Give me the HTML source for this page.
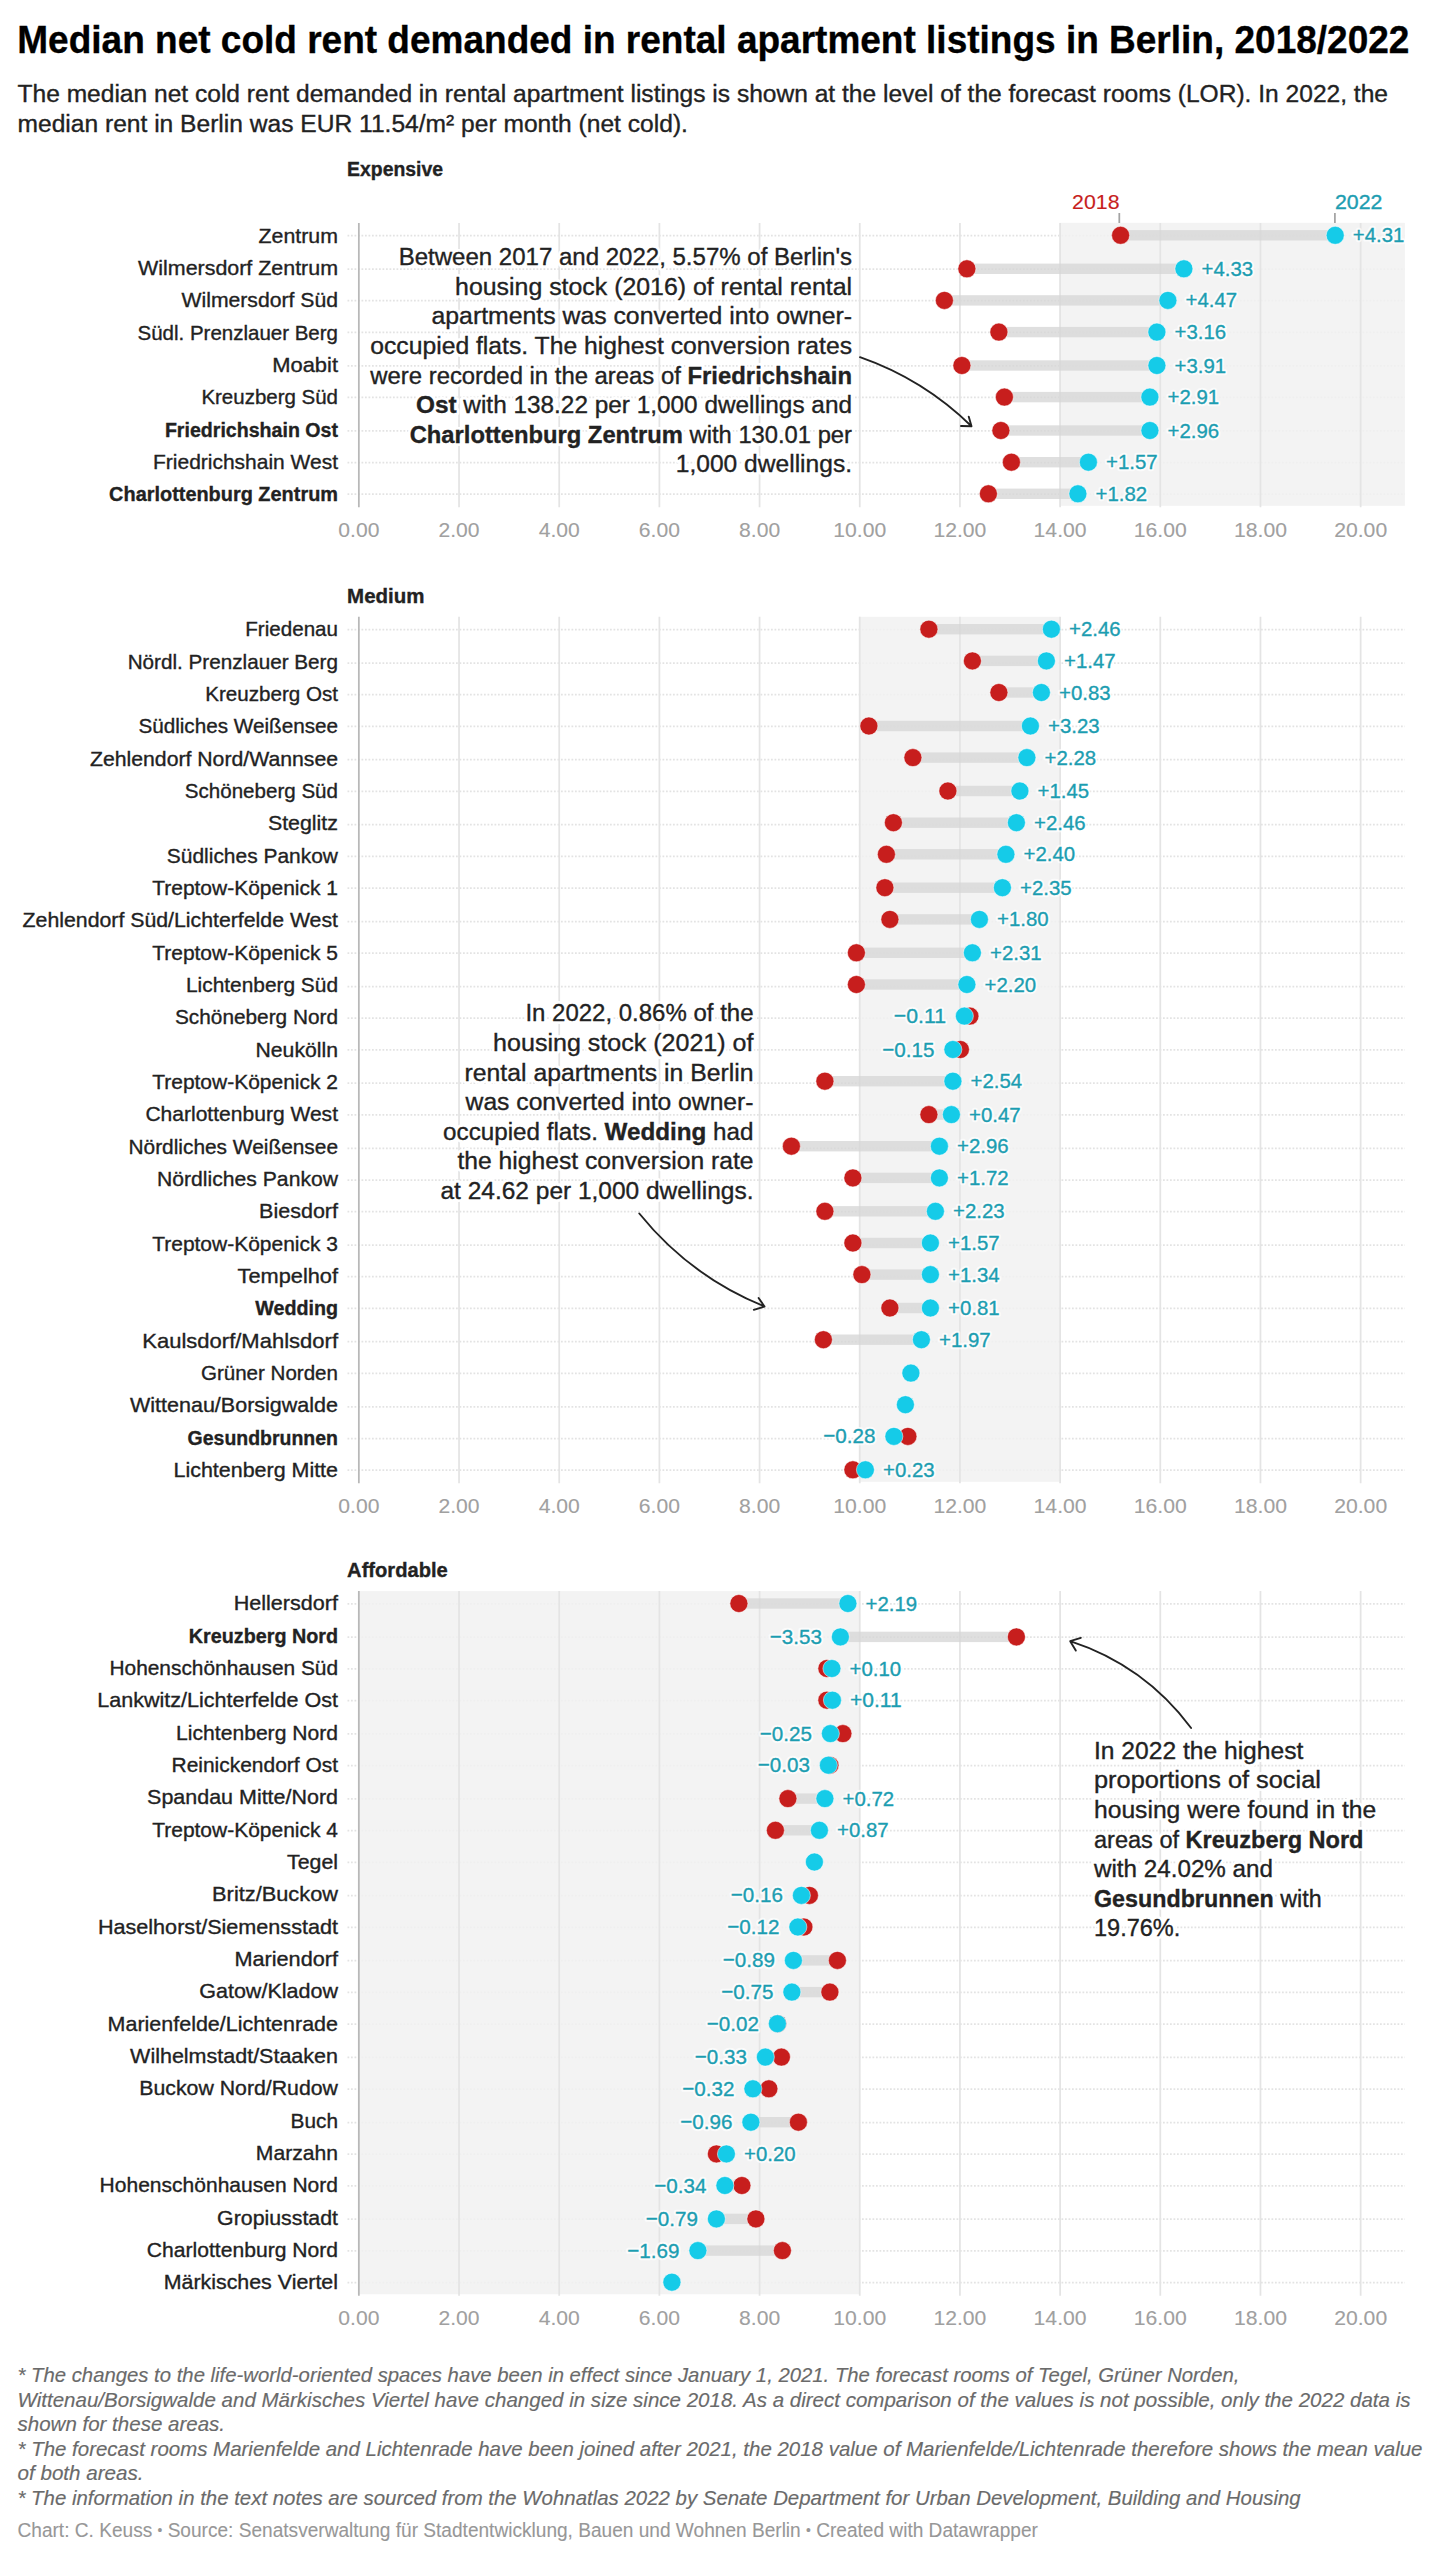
<!DOCTYPE html>
<html lang="en"><head><meta charset="utf-8"><title>Median net cold rent demanded in rental apartment listings in Berlin, 2018/2022</title>
<style>
html,body{margin:0;padding:0;background:#fff}
body{width:1442px;height:2560px;overflow:hidden}
svg{display:block;font-family:"Liberation Sans", sans-serif;fill:#222}
text{white-space:pre}
g{stroke-width:.35px}
.k0{fill:#000;stroke:#000}
.k1{fill:#222;stroke:#222}
.k2{fill:#1c9db1;stroke:#1c9db1}
.k3{fill:#a0a0a0;stroke:#a0a0a0;stroke-width:.1px}
.k4{fill:#c71e1d;stroke:#c71e1d;stroke-width:.15px}
.k5{fill:#6a6a6a;stroke:#6a6a6a;stroke-width:.15px}
.k6{fill:#979797;stroke:#979797;stroke-width:.1px}
.grid{stroke:#e4e4e4;stroke-width:1.75}
.axis{stroke:#b8b8b8;stroke-width:1.75}
.dot{stroke:#e3e3e3;stroke-width:1.75;stroke-dasharray:1.75 1.75}
.tick{stroke:#a3a3a3;stroke-width:1.75}
.bar{fill:#d6d6d6;fill-opacity:.78}
.band{fill:#f1f1f1;fill-opacity:.86}
.r{fill:#c71e1d;stroke:#fff;stroke-opacity:.5;stroke-width:1}
.c{fill:#15cbe8;stroke:#fff;stroke-opacity:.5;stroke-width:1}
.hv{fill:#fff;stroke:#fff;stroke-opacity:.7;stroke-width:4.5px;stroke-linejoin:round}
.ha{fill:#fff;stroke:#fff;stroke-width:6px;stroke-linejoin:round}
.arr{fill:none;stroke:#222;stroke-width:1.9;stroke-linecap:round;stroke-linejoin:round}
</style></head>
<body>
<svg width="1442" height="2560" viewBox="0 0 1442 2560">
<g class="k0"><text x="17.3" y="52.8" font-size="38.69" textLength="1392.1" lengthAdjust="spacingAndGlyphs"><tspan font-weight="bold">Median net cold rent demanded in rental apartment listings in Berlin, 2018/2022</tspan></text></g>
<g class="k1"><text x="17.5" y="102.2" font-size="24.62" textLength="1370.5" lengthAdjust="spacingAndGlyphs">The median net cold rent demanded in rental apartment listings is shown at the level of the forecast rooms (LOR). In 2022, the</text></g>
<g class="k1"><text x="17.5" y="131.6" font-size="24.62" textLength="670.4" lengthAdjust="spacingAndGlyphs">median rent in Berlin was EUR 11.54/m² per month (net cold).</text></g>
<line x1="347.5" x2="1404.9" y1="235.6" y2="235.6" class="dot"/>
<line x1="347.5" x2="1404.9" y1="269.1" y2="269.1" class="dot"/>
<line x1="347.5" x2="1404.9" y1="300.7" y2="300.7" class="dot"/>
<line x1="347.5" x2="1404.9" y1="332.4" y2="332.4" class="dot"/>
<line x1="347.5" x2="1404.9" y1="365.8" y2="365.8" class="dot"/>
<line x1="347.5" x2="1404.9" y1="397.4" y2="397.4" class="dot"/>
<line x1="347.5" x2="1404.9" y1="430.8" y2="430.8" class="dot"/>
<line x1="347.5" x2="1404.9" y1="462.5" y2="462.5" class="dot"/>
<line x1="347.5" x2="1404.9" y1="494.1" y2="494.1" class="dot"/>
<rect x="1059.1" y="222.9" width="345.8" height="282.9" class="band"/>
<line x1="459.03" x2="459.03" y1="222.9" y2="507.3" class="grid"/>
<line x1="559.21" x2="559.21" y1="222.9" y2="507.3" class="grid"/>
<line x1="659.39" x2="659.39" y1="222.9" y2="507.3" class="grid"/>
<line x1="759.57" x2="759.57" y1="222.9" y2="507.3" class="grid"/>
<line x1="859.75" x2="859.75" y1="222.9" y2="507.3" class="grid"/>
<line x1="959.93" x2="959.93" y1="222.9" y2="507.3" class="grid"/>
<line x1="1060.11" x2="1060.11" y1="222.9" y2="507.3" class="grid"/>
<line x1="1160.29" x2="1160.29" y1="222.9" y2="507.3" class="grid"/>
<line x1="1260.47" x2="1260.47" y1="222.9" y2="507.3" class="grid"/>
<line x1="1360.65" x2="1360.65" y1="222.9" y2="507.3" class="grid"/>
<line x1="358.85" x2="358.85" y1="222.9" y2="507.3" class="axis"/>
<rect x="1120.6" y="230.1" width="214.6" height="10.4" class="bar"/>
<rect x="966.9" y="263.6" width="217.0" height="10.4" class="bar"/>
<rect x="944.4" y="295.2" width="223.5" height="10.4" class="bar"/>
<rect x="998.9" y="326.9" width="158.0" height="10.4" class="bar"/>
<rect x="961.9" y="360.3" width="195.0" height="10.4" class="bar"/>
<rect x="1004.4" y="391.9" width="145.5" height="10.4" class="bar"/>
<rect x="1000.9" y="425.3" width="149.0" height="10.4" class="bar"/>
<rect x="1011.4" y="457.0" width="77.0" height="10.4" class="bar"/>
<rect x="988.4" y="488.6" width="89.5" height="10.4" class="bar"/>
<circle cx="1120.6" cy="235.3" r="9.0" class="r"/>
<circle cx="1335.2" cy="235.3" r="9.0" class="c"/>
<circle cx="966.9" cy="268.8" r="9.0" class="r"/>
<circle cx="1183.9" cy="268.8" r="9.0" class="c"/>
<circle cx="944.4" cy="300.4" r="9.0" class="r"/>
<circle cx="1167.9" cy="300.4" r="9.0" class="c"/>
<circle cx="998.9" cy="332.1" r="9.0" class="r"/>
<circle cx="1156.9" cy="332.1" r="9.0" class="c"/>
<circle cx="961.9" cy="365.5" r="9.0" class="r"/>
<circle cx="1156.9" cy="365.5" r="9.0" class="c"/>
<circle cx="1004.4" cy="397.1" r="9.0" class="r"/>
<circle cx="1149.9" cy="397.1" r="9.0" class="c"/>
<circle cx="1000.9" cy="430.5" r="9.0" class="r"/>
<circle cx="1149.9" cy="430.5" r="9.0" class="c"/>
<circle cx="1011.4" cy="462.2" r="9.0" class="r"/>
<circle cx="1088.4" cy="462.2" r="9.0" class="c"/>
<circle cx="988.4" cy="493.8" r="9.0" class="r"/>
<circle cx="1077.9" cy="493.8" r="9.0" class="c"/>
<g class="k1"><text x="347.1" y="175.9" font-size="21.1" textLength="96.0" lengthAdjust="spacingAndGlyphs"><tspan font-weight="bold">Expensive</tspan></text></g>
<g class="k1"><text x="338.0" y="242.5" font-size="21.1" text-anchor="end" textLength="79.4" lengthAdjust="spacingAndGlyphs">Zentrum</text></g>
<use href="#t6" class="hv"/><g class="k2"><text x="1352.8" y="242.3" font-size="21.1" textLength="51.6" lengthAdjust="spacingAndGlyphs" id="t6">+4.31</text></g>
<g class="k1"><text x="338.0" y="274.8" font-size="21.1" text-anchor="end" textLength="199.9" lengthAdjust="spacingAndGlyphs">Wilmersdorf Zentrum</text></g>
<use href="#t8" class="hv"/><g class="k2"><text x="1201.5" y="275.8" font-size="21.1" textLength="51.6" lengthAdjust="spacingAndGlyphs" id="t8">+4.33</text></g>
<g class="k1"><text x="338.0" y="307.2" font-size="21.1" text-anchor="end" textLength="156.5" lengthAdjust="spacingAndGlyphs">Wilmersdorf Süd</text></g>
<use href="#t10" class="hv"/><g class="k2"><text x="1185.5" y="307.4" font-size="21.1" textLength="51.6" lengthAdjust="spacingAndGlyphs" id="t10">+4.47</text></g>
<g class="k1"><text x="338.0" y="339.5" font-size="21.1" text-anchor="end" textLength="200.5" lengthAdjust="spacingAndGlyphs">Südl. Prenzlauer Berg</text></g>
<use href="#t12" class="hv"/><g class="k2"><text x="1174.5" y="339.1" font-size="21.1" textLength="51.6" lengthAdjust="spacingAndGlyphs" id="t12">+3.16</text></g>
<g class="k1"><text x="338.0" y="371.8" font-size="21.1" text-anchor="end" textLength="65.8" lengthAdjust="spacingAndGlyphs">Moabit</text></g>
<use href="#t14" class="hv"/><g class="k2"><text x="1174.5" y="372.5" font-size="21.1" textLength="51.6" lengthAdjust="spacingAndGlyphs" id="t14">+3.91</text></g>
<g class="k1"><text x="338.0" y="404.1" font-size="21.1" text-anchor="end" textLength="136.6" lengthAdjust="spacingAndGlyphs">Kreuzberg Süd</text></g>
<use href="#t16" class="hv"/><g class="k2"><text x="1167.5" y="404.1" font-size="21.1" textLength="51.6" lengthAdjust="spacingAndGlyphs" id="t16">+2.91</text></g>
<g class="k1"><text x="338.0" y="436.5" font-size="21.1" text-anchor="end" textLength="173.1" lengthAdjust="spacingAndGlyphs"><tspan font-weight="bold">Friedrichshain Ost</tspan></text></g>
<use href="#t18" class="hv"/><g class="k2"><text x="1167.5" y="437.5" font-size="21.1" textLength="51.6" lengthAdjust="spacingAndGlyphs" id="t18">+2.96</text></g>
<g class="k1"><text x="338.0" y="468.8" font-size="21.1" text-anchor="end" textLength="185.0" lengthAdjust="spacingAndGlyphs">Friedrichshain West</text></g>
<use href="#t20" class="hv"/><g class="k2"><text x="1106.0" y="469.2" font-size="21.1" textLength="51.6" lengthAdjust="spacingAndGlyphs" id="t20">+1.57</text></g>
<g class="k1"><text x="338.0" y="501.1" font-size="21.1" text-anchor="end" textLength="228.9" lengthAdjust="spacingAndGlyphs"><tspan font-weight="bold">Charlottenburg Zentrum</tspan></text></g>
<use href="#t22" class="hv"/><g class="k2"><text x="1095.5" y="500.8" font-size="21.1" textLength="51.6" lengthAdjust="spacingAndGlyphs" id="t22">+1.82</text></g>
<g class="k3"><text x="358.9" y="536.9" font-size="21.1" text-anchor="middle" textLength="41.1" lengthAdjust="spacingAndGlyphs">0.00</text></g>
<g class="k3"><text x="459.0" y="536.9" font-size="21.1" text-anchor="middle" textLength="41.1" lengthAdjust="spacingAndGlyphs">2.00</text></g>
<g class="k3"><text x="559.2" y="536.9" font-size="21.1" text-anchor="middle" textLength="41.1" lengthAdjust="spacingAndGlyphs">4.00</text></g>
<g class="k3"><text x="659.4" y="536.9" font-size="21.1" text-anchor="middle" textLength="41.1" lengthAdjust="spacingAndGlyphs">6.00</text></g>
<g class="k3"><text x="759.6" y="536.9" font-size="21.1" text-anchor="middle" textLength="41.1" lengthAdjust="spacingAndGlyphs">8.00</text></g>
<g class="k3"><text x="859.8" y="536.9" font-size="21.1" text-anchor="middle" textLength="53.0" lengthAdjust="spacingAndGlyphs">10.00</text></g>
<g class="k3"><text x="959.9" y="536.9" font-size="21.1" text-anchor="middle" textLength="53.0" lengthAdjust="spacingAndGlyphs">12.00</text></g>
<g class="k3"><text x="1060.1" y="536.9" font-size="21.1" text-anchor="middle" textLength="53.0" lengthAdjust="spacingAndGlyphs">14.00</text></g>
<g class="k3"><text x="1160.3" y="536.9" font-size="21.1" text-anchor="middle" textLength="53.0" lengthAdjust="spacingAndGlyphs">16.00</text></g>
<g class="k3"><text x="1260.5" y="536.9" font-size="21.1" text-anchor="middle" textLength="53.0" lengthAdjust="spacingAndGlyphs">18.00</text></g>
<g class="k3"><text x="1360.7" y="536.9" font-size="21.1" text-anchor="middle" textLength="53.0" lengthAdjust="spacingAndGlyphs">20.00</text></g>
<line x1="1119.3" x2="1119.3" y1="213" y2="223" class="tick"/>
<line x1="1334.9" x2="1334.9" y1="213" y2="223" class="tick"/>
<g class="k4"><text x="1119.5" y="209.0" font-size="21.1" text-anchor="end" textLength="47.4" lengthAdjust="spacingAndGlyphs">2018</text></g>
<g class="k2"><text x="1335.0" y="209.0" font-size="21.1" textLength="47.4" lengthAdjust="spacingAndGlyphs">2022</text></g>
<line x1="347.5" x2="1404.9" y1="629.5" y2="629.5" class="dot"/>
<line x1="347.5" x2="1404.9" y1="663.0" y2="663.0" class="dot"/>
<line x1="347.5" x2="1404.9" y1="694.6" y2="694.6" class="dot"/>
<line x1="347.5" x2="1404.9" y1="726.3" y2="726.3" class="dot"/>
<line x1="347.5" x2="1404.9" y1="759.7" y2="759.7" class="dot"/>
<line x1="347.5" x2="1404.9" y1="791.3" y2="791.3" class="dot"/>
<line x1="347.5" x2="1404.9" y1="824.7" y2="824.7" class="dot"/>
<line x1="347.5" x2="1404.9" y1="856.4" y2="856.4" class="dot"/>
<line x1="347.5" x2="1404.9" y1="888.0" y2="888.0" class="dot"/>
<line x1="347.5" x2="1404.9" y1="921.5" y2="921.5" class="dot"/>
<line x1="347.5" x2="1404.9" y1="953.1" y2="953.1" class="dot"/>
<line x1="347.5" x2="1404.9" y1="986.5" y2="986.5" class="dot"/>
<line x1="347.5" x2="1404.9" y1="1018.2" y2="1018.2" class="dot"/>
<line x1="347.5" x2="1404.9" y1="1049.8" y2="1049.8" class="dot"/>
<line x1="347.5" x2="1404.9" y1="1083.2" y2="1083.2" class="dot"/>
<line x1="347.5" x2="1404.9" y1="1114.9" y2="1114.9" class="dot"/>
<line x1="347.5" x2="1404.9" y1="1148.3" y2="1148.3" class="dot"/>
<line x1="347.5" x2="1404.9" y1="1180.0" y2="1180.0" class="dot"/>
<line x1="347.5" x2="1404.9" y1="1211.6" y2="1211.6" class="dot"/>
<line x1="347.5" x2="1404.9" y1="1245.0" y2="1245.0" class="dot"/>
<line x1="347.5" x2="1404.9" y1="1276.7" y2="1276.7" class="dot"/>
<line x1="347.5" x2="1404.9" y1="1308.3" y2="1308.3" class="dot"/>
<line x1="347.5" x2="1404.9" y1="1341.7" y2="1341.7" class="dot"/>
<line x1="347.5" x2="1404.9" y1="1373.4" y2="1373.4" class="dot"/>
<line x1="347.5" x2="1404.9" y1="1406.8" y2="1406.8" class="dot"/>
<line x1="347.5" x2="1404.9" y1="1438.5" y2="1438.5" class="dot"/>
<line x1="347.5" x2="1404.9" y1="1470.1" y2="1470.1" class="dot"/>
<rect x="858.8" y="616.8" width="200.9" height="865.0" class="band"/>
<line x1="459.03" x2="459.03" y1="616.8" y2="1483.3" class="grid"/>
<line x1="559.21" x2="559.21" y1="616.8" y2="1483.3" class="grid"/>
<line x1="659.39" x2="659.39" y1="616.8" y2="1483.3" class="grid"/>
<line x1="759.57" x2="759.57" y1="616.8" y2="1483.3" class="grid"/>
<line x1="859.75" x2="859.75" y1="616.8" y2="1483.3" class="grid"/>
<line x1="959.93" x2="959.93" y1="616.8" y2="1483.3" class="grid"/>
<line x1="1060.11" x2="1060.11" y1="616.8" y2="1483.3" class="grid"/>
<line x1="1160.29" x2="1160.29" y1="616.8" y2="1483.3" class="grid"/>
<line x1="1260.47" x2="1260.47" y1="616.8" y2="1483.3" class="grid"/>
<line x1="1360.65" x2="1360.65" y1="616.8" y2="1483.3" class="grid"/>
<line x1="358.85" x2="358.85" y1="616.8" y2="1483.3" class="axis"/>
<rect x="928.9" y="624.0" width="122.5" height="10.4" class="bar"/>
<rect x="972.4" y="655.7" width="74.0" height="10.4" class="bar"/>
<rect x="998.9" y="687.3" width="42.5" height="10.4" class="bar"/>
<rect x="868.9" y="720.8" width="161.5" height="10.4" class="bar"/>
<rect x="912.9" y="752.4" width="114.0" height="10.4" class="bar"/>
<rect x="947.9" y="785.8" width="72.0" height="10.4" class="bar"/>
<rect x="893.4" y="817.5" width="123.0" height="10.4" class="bar"/>
<rect x="886.4" y="849.1" width="119.5" height="10.4" class="bar"/>
<rect x="884.9" y="882.5" width="117.5" height="10.4" class="bar"/>
<rect x="889.9" y="914.2" width="89.5" height="10.4" class="bar"/>
<rect x="856.4" y="947.6" width="116.0" height="10.4" class="bar"/>
<rect x="856.4" y="979.3" width="110.5" height="10.4" class="bar"/>
<rect x="964.4" y="1010.9" width="5.5" height="10.4" class="bar"/>
<rect x="952.9" y="1044.3" width="7.5" height="10.4" class="bar"/>
<rect x="824.9" y="1076.0" width="128.0" height="10.4" class="bar"/>
<rect x="928.9" y="1109.4" width="22.5" height="10.4" class="bar"/>
<rect x="791.4" y="1141.0" width="148.0" height="10.4" class="bar"/>
<rect x="852.9" y="1172.7" width="86.5" height="10.4" class="bar"/>
<rect x="824.9" y="1206.1" width="110.5" height="10.4" class="bar"/>
<rect x="852.9" y="1237.8" width="77.5" height="10.4" class="bar"/>
<rect x="861.9" y="1269.4" width="68.5" height="10.4" class="bar"/>
<rect x="889.9" y="1302.8" width="40.5" height="10.4" class="bar"/>
<rect x="823.4" y="1334.5" width="98.0" height="10.4" class="bar"/>
<rect x="893.9" y="1431.2" width="14.0" height="10.4" class="bar"/>
<rect x="852.9" y="1464.6" width="12.5" height="10.4" class="bar"/>
<circle cx="928.9" cy="629.2" r="9.0" class="r"/>
<circle cx="1051.4" cy="629.2" r="9.0" class="c"/>
<circle cx="972.4" cy="660.9" r="9.0" class="r"/>
<circle cx="1046.4" cy="660.9" r="9.0" class="c"/>
<circle cx="998.9" cy="692.5" r="9.0" class="r"/>
<circle cx="1041.4" cy="692.5" r="9.0" class="c"/>
<circle cx="868.9" cy="726.0" r="9.0" class="r"/>
<circle cx="1030.4" cy="726.0" r="9.0" class="c"/>
<circle cx="912.9" cy="757.6" r="9.0" class="r"/>
<circle cx="1026.9" cy="757.6" r="9.0" class="c"/>
<circle cx="947.9" cy="791.0" r="9.0" class="r"/>
<circle cx="1019.9" cy="791.0" r="9.0" class="c"/>
<circle cx="893.4" cy="822.7" r="9.0" class="r"/>
<circle cx="1016.4" cy="822.7" r="9.0" class="c"/>
<circle cx="886.4" cy="854.3" r="9.0" class="r"/>
<circle cx="1005.9" cy="854.3" r="9.0" class="c"/>
<circle cx="884.9" cy="887.7" r="9.0" class="r"/>
<circle cx="1002.4" cy="887.7" r="9.0" class="c"/>
<circle cx="889.9" cy="919.4" r="9.0" class="r"/>
<circle cx="979.4" cy="919.4" r="9.0" class="c"/>
<circle cx="856.4" cy="952.8" r="9.0" class="r"/>
<circle cx="972.4" cy="952.8" r="9.0" class="c"/>
<circle cx="856.4" cy="984.5" r="9.0" class="r"/>
<circle cx="966.9" cy="984.5" r="9.0" class="c"/>
<circle cx="969.9" cy="1016.1" r="9.0" class="r"/>
<circle cx="964.4" cy="1016.1" r="9.0" class="c"/>
<circle cx="960.4" cy="1049.5" r="9.0" class="r"/>
<circle cx="952.9" cy="1049.5" r="9.0" class="c"/>
<circle cx="824.9" cy="1081.2" r="9.0" class="r"/>
<circle cx="952.9" cy="1081.2" r="9.0" class="c"/>
<circle cx="928.9" cy="1114.6" r="9.0" class="r"/>
<circle cx="951.4" cy="1114.6" r="9.0" class="c"/>
<circle cx="791.4" cy="1146.2" r="9.0" class="r"/>
<circle cx="939.4" cy="1146.2" r="9.0" class="c"/>
<circle cx="852.9" cy="1177.9" r="9.0" class="r"/>
<circle cx="939.4" cy="1177.9" r="9.0" class="c"/>
<circle cx="824.9" cy="1211.3" r="9.0" class="r"/>
<circle cx="935.4" cy="1211.3" r="9.0" class="c"/>
<circle cx="852.9" cy="1243.0" r="9.0" class="r"/>
<circle cx="930.4" cy="1243.0" r="9.0" class="c"/>
<circle cx="861.9" cy="1274.6" r="9.0" class="r"/>
<circle cx="930.4" cy="1274.6" r="9.0" class="c"/>
<circle cx="889.9" cy="1308.0" r="9.0" class="r"/>
<circle cx="930.4" cy="1308.0" r="9.0" class="c"/>
<circle cx="823.4" cy="1339.7" r="9.0" class="r"/>
<circle cx="921.4" cy="1339.7" r="9.0" class="c"/>
<circle cx="910.9" cy="1373.1" r="9.0" class="c"/>
<circle cx="905.4" cy="1404.7" r="9.0" class="c"/>
<circle cx="907.9" cy="1436.4" r="9.0" class="r"/>
<circle cx="893.9" cy="1436.4" r="9.0" class="c"/>
<circle cx="852.9" cy="1469.8" r="9.0" class="r"/>
<circle cx="865.4" cy="1469.8" r="9.0" class="c"/>
<g class="k1"><text x="347.1" y="603.1" font-size="21.1" textLength="77.4" lengthAdjust="spacingAndGlyphs"><tspan font-weight="bold">Medium</tspan></text></g>
<g class="k1"><text x="338.0" y="636.2" font-size="21.1" text-anchor="end" textLength="92.7" lengthAdjust="spacingAndGlyphs">Friedenau</text></g>
<use href="#t38" class="hv"/><g class="k2"><text x="1069.0" y="636.2" font-size="21.1" textLength="51.6" lengthAdjust="spacingAndGlyphs" id="t38">+2.46</text></g>
<g class="k1"><text x="338.0" y="668.5" font-size="21.1" text-anchor="end" textLength="210.3" lengthAdjust="spacingAndGlyphs">Nördl. Prenzlauer Berg</text></g>
<use href="#t40" class="hv"/><g class="k2"><text x="1064.0" y="667.9" font-size="21.1" textLength="51.6" lengthAdjust="spacingAndGlyphs" id="t40">+1.47</text></g>
<g class="k1"><text x="338.0" y="700.9" font-size="21.1" text-anchor="end" textLength="132.8" lengthAdjust="spacingAndGlyphs">Kreuzberg Ost</text></g>
<use href="#t42" class="hv"/><g class="k2"><text x="1059.0" y="699.5" font-size="21.1" textLength="51.6" lengthAdjust="spacingAndGlyphs" id="t42">+0.83</text></g>
<g class="k1"><text x="338.0" y="733.2" font-size="21.1" text-anchor="end" textLength="199.6" lengthAdjust="spacingAndGlyphs">Südliches Weißensee</text></g>
<use href="#t44" class="hv"/><g class="k2"><text x="1048.0" y="733.0" font-size="21.1" textLength="51.6" lengthAdjust="spacingAndGlyphs" id="t44">+3.23</text></g>
<g class="k1"><text x="338.0" y="765.5" font-size="21.1" text-anchor="end" textLength="248.0" lengthAdjust="spacingAndGlyphs">Zehlendorf Nord/Wannsee</text></g>
<use href="#t46" class="hv"/><g class="k2"><text x="1044.5" y="764.6" font-size="21.1" textLength="51.6" lengthAdjust="spacingAndGlyphs" id="t46">+2.28</text></g>
<g class="k1"><text x="338.0" y="797.9" font-size="21.1" text-anchor="end" textLength="153.2" lengthAdjust="spacingAndGlyphs">Schöneberg Süd</text></g>
<use href="#t48" class="hv"/><g class="k2"><text x="1037.5" y="798.0" font-size="21.1" textLength="51.6" lengthAdjust="spacingAndGlyphs" id="t48">+1.45</text></g>
<g class="k1"><text x="338.0" y="830.2" font-size="21.1" text-anchor="end" textLength="70.1" lengthAdjust="spacingAndGlyphs">Steglitz</text></g>
<use href="#t50" class="hv"/><g class="k2"><text x="1034.0" y="829.7" font-size="21.1" textLength="51.6" lengthAdjust="spacingAndGlyphs" id="t50">+2.46</text></g>
<g class="k1"><text x="338.0" y="862.5" font-size="21.1" text-anchor="end" textLength="171.2" lengthAdjust="spacingAndGlyphs">Südliches Pankow</text></g>
<use href="#t52" class="hv"/><g class="k2"><text x="1023.5" y="861.3" font-size="21.1" textLength="51.6" lengthAdjust="spacingAndGlyphs" id="t52">+2.40</text></g>
<g class="k1"><text x="338.0" y="894.8" font-size="21.1" text-anchor="end" textLength="185.8" lengthAdjust="spacingAndGlyphs">Treptow-Köpenick 1</text></g>
<use href="#t54" class="hv"/><g class="k2"><text x="1020.0" y="894.7" font-size="21.1" textLength="51.6" lengthAdjust="spacingAndGlyphs" id="t54">+2.35</text></g>
<g class="k1"><text x="338.0" y="927.2" font-size="21.1" text-anchor="end" textLength="315.4" lengthAdjust="spacingAndGlyphs">Zehlendorf Süd/Lichterfelde West</text></g>
<use href="#t56" class="hv"/><g class="k2"><text x="997.0" y="926.4" font-size="21.1" textLength="51.6" lengthAdjust="spacingAndGlyphs" id="t56">+1.80</text></g>
<g class="k1"><text x="338.0" y="959.5" font-size="21.1" text-anchor="end" textLength="185.8" lengthAdjust="spacingAndGlyphs">Treptow-Köpenick 5</text></g>
<use href="#t58" class="hv"/><g class="k2"><text x="990.0" y="959.8" font-size="21.1" textLength="51.6" lengthAdjust="spacingAndGlyphs" id="t58">+2.31</text></g>
<g class="k1"><text x="338.0" y="991.8" font-size="21.1" text-anchor="end" textLength="152.0" lengthAdjust="spacingAndGlyphs">Lichtenberg Süd</text></g>
<use href="#t60" class="hv"/><g class="k2"><text x="984.5" y="991.5" font-size="21.1" textLength="51.6" lengthAdjust="spacingAndGlyphs" id="t60">+2.20</text></g>
<g class="k1"><text x="338.0" y="1024.2" font-size="21.1" text-anchor="end" textLength="163.0" lengthAdjust="spacingAndGlyphs">Schöneberg Nord</text></g>
<use href="#t62" class="hv"/><g class="k2"><text x="946.0" y="1023.1" font-size="21.1" text-anchor="end" textLength="52.2" lengthAdjust="spacingAndGlyphs" id="t62">−0.11</text></g>
<g class="k1"><text x="338.0" y="1056.5" font-size="21.1" text-anchor="end" textLength="82.5" lengthAdjust="spacingAndGlyphs">Neukölln</text></g>
<use href="#t64" class="hv"/><g class="k2"><text x="934.5" y="1056.5" font-size="21.1" text-anchor="end" textLength="52.2" lengthAdjust="spacingAndGlyphs" id="t64">−0.15</text></g>
<g class="k1"><text x="338.0" y="1088.8" font-size="21.1" text-anchor="end" textLength="185.8" lengthAdjust="spacingAndGlyphs">Treptow-Köpenick 2</text></g>
<use href="#t66" class="hv"/><g class="k2"><text x="970.5" y="1088.2" font-size="21.1" textLength="51.6" lengthAdjust="spacingAndGlyphs" id="t66">+2.54</text></g>
<g class="k1"><text x="338.0" y="1121.2" font-size="21.1" text-anchor="end" textLength="192.6" lengthAdjust="spacingAndGlyphs">Charlottenburg West</text></g>
<use href="#t68" class="hv"/><g class="k2"><text x="969.0" y="1121.6" font-size="21.1" textLength="51.6" lengthAdjust="spacingAndGlyphs" id="t68">+0.47</text></g>
<g class="k1"><text x="338.0" y="1153.5" font-size="21.1" text-anchor="end" textLength="209.5" lengthAdjust="spacingAndGlyphs">Nördliches Weißensee</text></g>
<use href="#t70" class="hv"/><g class="k2"><text x="957.0" y="1153.2" font-size="21.1" textLength="51.6" lengthAdjust="spacingAndGlyphs" id="t70">+2.96</text></g>
<g class="k1"><text x="338.0" y="1185.8" font-size="21.1" text-anchor="end" textLength="181.0" lengthAdjust="spacingAndGlyphs">Nördliches Pankow</text></g>
<use href="#t72" class="hv"/><g class="k2"><text x="957.0" y="1184.9" font-size="21.1" textLength="51.6" lengthAdjust="spacingAndGlyphs" id="t72">+1.72</text></g>
<g class="k1"><text x="338.0" y="1218.1" font-size="21.1" text-anchor="end" textLength="78.9" lengthAdjust="spacingAndGlyphs">Biesdorf</text></g>
<use href="#t74" class="hv"/><g class="k2"><text x="953.0" y="1218.3" font-size="21.1" textLength="51.6" lengthAdjust="spacingAndGlyphs" id="t74">+2.23</text></g>
<g class="k1"><text x="338.0" y="1250.5" font-size="21.1" text-anchor="end" textLength="185.8" lengthAdjust="spacingAndGlyphs">Treptow-Köpenick 3</text></g>
<use href="#t76" class="hv"/><g class="k2"><text x="948.0" y="1250.0" font-size="21.1" textLength="51.6" lengthAdjust="spacingAndGlyphs" id="t76">+1.57</text></g>
<g class="k1"><text x="338.0" y="1282.8" font-size="21.1" text-anchor="end" textLength="100.4" lengthAdjust="spacingAndGlyphs">Tempelhof</text></g>
<use href="#t78" class="hv"/><g class="k2"><text x="948.0" y="1281.6" font-size="21.1" textLength="51.6" lengthAdjust="spacingAndGlyphs" id="t78">+1.34</text></g>
<g class="k1"><text x="338.0" y="1315.1" font-size="21.1" text-anchor="end" textLength="82.8" lengthAdjust="spacingAndGlyphs"><tspan font-weight="bold">Wedding</tspan></text></g>
<use href="#t80" class="hv"/><g class="k2"><text x="948.0" y="1315.0" font-size="21.1" textLength="51.6" lengthAdjust="spacingAndGlyphs" id="t80">+0.81</text></g>
<g class="k1"><text x="338.0" y="1347.5" font-size="21.1" text-anchor="end" textLength="195.7" lengthAdjust="spacingAndGlyphs">Kaulsdorf/Mahlsdorf</text></g>
<use href="#t82" class="hv"/><g class="k2"><text x="939.0" y="1346.7" font-size="21.1" textLength="51.6" lengthAdjust="spacingAndGlyphs" id="t82">+1.97</text></g>
<g class="k1"><text x="338.0" y="1379.8" font-size="21.1" text-anchor="end" textLength="137.1" lengthAdjust="spacingAndGlyphs">Grüner Norden</text></g>
<g class="k1"><text x="338.0" y="1412.1" font-size="21.1" text-anchor="end" textLength="208.0" lengthAdjust="spacingAndGlyphs">Wittenau/Borsigwalde</text></g>
<g class="k1"><text x="338.0" y="1444.5" font-size="21.1" text-anchor="end" textLength="150.4" lengthAdjust="spacingAndGlyphs"><tspan font-weight="bold">Gesundbrunnen</tspan></text></g>
<use href="#t86" class="hv"/><g class="k2"><text x="875.5" y="1443.4" font-size="21.1" text-anchor="end" textLength="52.2" lengthAdjust="spacingAndGlyphs" id="t86">−0.28</text></g>
<g class="k1"><text x="338.0" y="1476.8" font-size="21.1" text-anchor="end" textLength="164.5" lengthAdjust="spacingAndGlyphs">Lichtenberg Mitte</text></g>
<use href="#t88" class="hv"/><g class="k2"><text x="883.0" y="1476.8" font-size="21.1" textLength="51.6" lengthAdjust="spacingAndGlyphs" id="t88">+0.23</text></g>
<g class="k3"><text x="358.9" y="1512.9" font-size="21.1" text-anchor="middle" textLength="41.1" lengthAdjust="spacingAndGlyphs">0.00</text></g>
<g class="k3"><text x="459.0" y="1512.9" font-size="21.1" text-anchor="middle" textLength="41.1" lengthAdjust="spacingAndGlyphs">2.00</text></g>
<g class="k3"><text x="559.2" y="1512.9" font-size="21.1" text-anchor="middle" textLength="41.1" lengthAdjust="spacingAndGlyphs">4.00</text></g>
<g class="k3"><text x="659.4" y="1512.9" font-size="21.1" text-anchor="middle" textLength="41.1" lengthAdjust="spacingAndGlyphs">6.00</text></g>
<g class="k3"><text x="759.6" y="1512.9" font-size="21.1" text-anchor="middle" textLength="41.1" lengthAdjust="spacingAndGlyphs">8.00</text></g>
<g class="k3"><text x="859.8" y="1512.9" font-size="21.1" text-anchor="middle" textLength="53.0" lengthAdjust="spacingAndGlyphs">10.00</text></g>
<g class="k3"><text x="959.9" y="1512.9" font-size="21.1" text-anchor="middle" textLength="53.0" lengthAdjust="spacingAndGlyphs">12.00</text></g>
<g class="k3"><text x="1060.1" y="1512.9" font-size="21.1" text-anchor="middle" textLength="53.0" lengthAdjust="spacingAndGlyphs">14.00</text></g>
<g class="k3"><text x="1160.3" y="1512.9" font-size="21.1" text-anchor="middle" textLength="53.0" lengthAdjust="spacingAndGlyphs">16.00</text></g>
<g class="k3"><text x="1260.5" y="1512.9" font-size="21.1" text-anchor="middle" textLength="53.0" lengthAdjust="spacingAndGlyphs">18.00</text></g>
<g class="k3"><text x="1360.7" y="1512.9" font-size="21.1" text-anchor="middle" textLength="53.0" lengthAdjust="spacingAndGlyphs">20.00</text></g>
<line x1="347.5" x2="1404.9" y1="1603.8" y2="1603.8" class="dot"/>
<line x1="347.5" x2="1404.9" y1="1637.2" y2="1637.2" class="dot"/>
<line x1="347.5" x2="1404.9" y1="1668.8" y2="1668.8" class="dot"/>
<line x1="347.5" x2="1404.9" y1="1700.5" y2="1700.5" class="dot"/>
<line x1="347.5" x2="1404.9" y1="1733.9" y2="1733.9" class="dot"/>
<line x1="347.5" x2="1404.9" y1="1765.5" y2="1765.5" class="dot"/>
<line x1="347.5" x2="1404.9" y1="1798.9" y2="1798.9" class="dot"/>
<line x1="347.5" x2="1404.9" y1="1830.6" y2="1830.6" class="dot"/>
<line x1="347.5" x2="1404.9" y1="1862.3" y2="1862.3" class="dot"/>
<line x1="347.5" x2="1404.9" y1="1895.7" y2="1895.7" class="dot"/>
<line x1="347.5" x2="1404.9" y1="1927.3" y2="1927.3" class="dot"/>
<line x1="347.5" x2="1404.9" y1="1960.7" y2="1960.7" class="dot"/>
<line x1="347.5" x2="1404.9" y1="1992.4" y2="1992.4" class="dot"/>
<line x1="347.5" x2="1404.9" y1="2024.0" y2="2024.0" class="dot"/>
<line x1="347.5" x2="1404.9" y1="2057.4" y2="2057.4" class="dot"/>
<line x1="347.5" x2="1404.9" y1="2089.1" y2="2089.1" class="dot"/>
<line x1="347.5" x2="1404.9" y1="2122.5" y2="2122.5" class="dot"/>
<line x1="347.5" x2="1404.9" y1="2154.2" y2="2154.2" class="dot"/>
<line x1="347.5" x2="1404.9" y1="2185.8" y2="2185.8" class="dot"/>
<line x1="347.5" x2="1404.9" y1="2219.2" y2="2219.2" class="dot"/>
<line x1="347.5" x2="1404.9" y1="2250.9" y2="2250.9" class="dot"/>
<line x1="347.5" x2="1404.9" y1="2282.5" y2="2282.5" class="dot"/>
<rect x="357.9" y="1591.1" width="501.4" height="703.2" class="band"/>
<line x1="459.03" x2="459.03" y1="1591.1" y2="2295.7" class="grid"/>
<line x1="559.21" x2="559.21" y1="1591.1" y2="2295.7" class="grid"/>
<line x1="659.39" x2="659.39" y1="1591.1" y2="2295.7" class="grid"/>
<line x1="759.57" x2="759.57" y1="1591.1" y2="2295.7" class="grid"/>
<line x1="859.75" x2="859.75" y1="1591.1" y2="2295.7" class="grid"/>
<line x1="959.93" x2="959.93" y1="1591.1" y2="2295.7" class="grid"/>
<line x1="1060.11" x2="1060.11" y1="1591.1" y2="2295.7" class="grid"/>
<line x1="1160.29" x2="1160.29" y1="1591.1" y2="2295.7" class="grid"/>
<line x1="1260.47" x2="1260.47" y1="1591.1" y2="2295.7" class="grid"/>
<line x1="1360.65" x2="1360.65" y1="1591.1" y2="2295.7" class="grid"/>
<line x1="358.85" x2="358.85" y1="1591.1" y2="2295.7" class="axis"/>
<rect x="738.9" y="1598.3" width="109.0" height="10.4" class="bar"/>
<rect x="840.4" y="1631.7" width="176.0" height="10.4" class="bar"/>
<rect x="826.9" y="1663.3" width="5.0" height="10.4" class="bar"/>
<rect x="826.9" y="1695.0" width="5.5" height="10.4" class="bar"/>
<rect x="830.4" y="1728.4" width="12.5" height="10.4" class="bar"/>
<rect x="828.4" y="1760.0" width="1.5" height="10.4" class="bar"/>
<rect x="787.9" y="1793.4" width="37.0" height="10.4" class="bar"/>
<rect x="775.4" y="1825.1" width="44.0" height="10.4" class="bar"/>
<rect x="801.4" y="1890.2" width="8.0" height="10.4" class="bar"/>
<rect x="797.9" y="1921.8" width="6.0" height="10.4" class="bar"/>
<rect x="793.4" y="1955.2" width="44.0" height="10.4" class="bar"/>
<rect x="791.9" y="1986.9" width="38.0" height="10.4" class="bar"/>
<rect x="777.4" y="2018.5" width="0.3" height="10.4" class="bar"/>
<rect x="765.4" y="2051.9" width="16.0" height="10.4" class="bar"/>
<rect x="752.9" y="2083.6" width="16.0" height="10.4" class="bar"/>
<rect x="750.9" y="2117.0" width="47.5" height="10.4" class="bar"/>
<rect x="716.4" y="2148.7" width="10.0" height="10.4" class="bar"/>
<rect x="724.9" y="2180.3" width="17.0" height="10.4" class="bar"/>
<rect x="716.4" y="2213.7" width="39.5" height="10.4" class="bar"/>
<rect x="697.9" y="2245.4" width="84.5" height="10.4" class="bar"/>
<circle cx="738.9" cy="1603.5" r="9.0" class="r"/>
<circle cx="847.9" cy="1603.5" r="9.0" class="c"/>
<circle cx="1016.4" cy="1636.9" r="9.0" class="r"/>
<circle cx="840.4" cy="1636.9" r="9.0" class="c"/>
<circle cx="826.9" cy="1668.5" r="9.0" class="r"/>
<circle cx="831.9" cy="1668.5" r="9.0" class="c"/>
<circle cx="826.9" cy="1700.2" r="9.0" class="r"/>
<circle cx="832.4" cy="1700.2" r="9.0" class="c"/>
<circle cx="842.9" cy="1733.6" r="9.0" class="r"/>
<circle cx="830.4" cy="1733.6" r="9.0" class="c"/>
<circle cx="829.9" cy="1765.2" r="9.0" class="r"/>
<circle cx="828.4" cy="1765.2" r="9.0" class="c"/>
<circle cx="787.9" cy="1798.6" r="9.0" class="r"/>
<circle cx="824.9" cy="1798.6" r="9.0" class="c"/>
<circle cx="775.4" cy="1830.3" r="9.0" class="r"/>
<circle cx="819.4" cy="1830.3" r="9.0" class="c"/>
<circle cx="814.4" cy="1862.0" r="9.0" class="c"/>
<circle cx="809.4" cy="1895.4" r="9.0" class="r"/>
<circle cx="801.4" cy="1895.4" r="9.0" class="c"/>
<circle cx="803.9" cy="1927.0" r="9.0" class="r"/>
<circle cx="797.9" cy="1927.0" r="9.0" class="c"/>
<circle cx="837.4" cy="1960.4" r="9.0" class="r"/>
<circle cx="793.4" cy="1960.4" r="9.0" class="c"/>
<circle cx="829.9" cy="1992.1" r="9.0" class="r"/>
<circle cx="791.9" cy="1992.1" r="9.0" class="c"/>
<circle cx="777.7" cy="2023.7" r="9.0" class="r"/>
<circle cx="777.4" cy="2023.7" r="9.0" class="c"/>
<circle cx="781.4" cy="2057.1" r="9.0" class="r"/>
<circle cx="765.4" cy="2057.1" r="9.0" class="c"/>
<circle cx="768.9" cy="2088.8" r="9.0" class="r"/>
<circle cx="752.9" cy="2088.8" r="9.0" class="c"/>
<circle cx="798.4" cy="2122.2" r="9.0" class="r"/>
<circle cx="750.9" cy="2122.2" r="9.0" class="c"/>
<circle cx="716.4" cy="2153.9" r="9.0" class="r"/>
<circle cx="726.4" cy="2153.9" r="9.0" class="c"/>
<circle cx="741.9" cy="2185.5" r="9.0" class="r"/>
<circle cx="724.9" cy="2185.5" r="9.0" class="c"/>
<circle cx="755.9" cy="2218.9" r="9.0" class="r"/>
<circle cx="716.4" cy="2218.9" r="9.0" class="c"/>
<circle cx="782.4" cy="2250.6" r="9.0" class="r"/>
<circle cx="697.9" cy="2250.6" r="9.0" class="c"/>
<circle cx="671.9" cy="2282.2" r="9.0" class="c"/>
<g class="k1"><text x="347.1" y="1576.6" font-size="21.1" textLength="100.7" lengthAdjust="spacingAndGlyphs"><tspan font-weight="bold">Affordable</tspan></text></g>
<g class="k1"><text x="338.0" y="1610.2" font-size="21.1" text-anchor="end" textLength="104.3" lengthAdjust="spacingAndGlyphs">Hellersdorf</text></g>
<use href="#t102" class="hv"/><g class="k2"><text x="865.5" y="1610.5" font-size="21.1" textLength="51.6" lengthAdjust="spacingAndGlyphs" id="t102">+2.19</text></g>
<g class="k1"><text x="338.0" y="1642.5" font-size="21.1" text-anchor="end" textLength="149.2" lengthAdjust="spacingAndGlyphs"><tspan font-weight="bold">Kreuzberg Nord</tspan></text></g>
<use href="#t104" class="hv"/><g class="k2"><text x="822.0" y="1643.9" font-size="21.1" text-anchor="end" textLength="52.2" lengthAdjust="spacingAndGlyphs" id="t104">−3.53</text></g>
<g class="k1"><text x="338.0" y="1674.9" font-size="21.1" text-anchor="end" textLength="228.5" lengthAdjust="spacingAndGlyphs">Hohenschönhausen Süd</text></g>
<use href="#t106" class="hv"/><g class="k2"><text x="849.5" y="1675.5" font-size="21.1" textLength="51.6" lengthAdjust="spacingAndGlyphs" id="t106">+0.10</text></g>
<g class="k1"><text x="338.0" y="1707.2" font-size="21.1" text-anchor="end" textLength="240.8" lengthAdjust="spacingAndGlyphs">Lankwitz/Lichterfelde Ost</text></g>
<use href="#t108" class="hv"/><g class="k2"><text x="850.0" y="1707.2" font-size="21.1" textLength="51.6" lengthAdjust="spacingAndGlyphs" id="t108">+0.11</text></g>
<g class="k1"><text x="338.0" y="1739.5" font-size="21.1" text-anchor="end" textLength="161.9" lengthAdjust="spacingAndGlyphs">Lichtenberg Nord</text></g>
<use href="#t110" class="hv"/><g class="k2"><text x="812.0" y="1740.6" font-size="21.1" text-anchor="end" textLength="52.2" lengthAdjust="spacingAndGlyphs" id="t110">−0.25</text></g>
<g class="k1"><text x="338.0" y="1771.8" font-size="21.1" text-anchor="end" textLength="166.5" lengthAdjust="spacingAndGlyphs">Reinickendorf Ost</text></g>
<use href="#t112" class="hv"/><g class="k2"><text x="810.0" y="1772.2" font-size="21.1" text-anchor="end" textLength="52.2" lengthAdjust="spacingAndGlyphs" id="t112">−0.03</text></g>
<g class="k1"><text x="338.0" y="1804.2" font-size="21.1" text-anchor="end" textLength="190.9" lengthAdjust="spacingAndGlyphs">Spandau Mitte/Nord</text></g>
<use href="#t114" class="hv"/><g class="k2"><text x="842.5" y="1805.6" font-size="21.1" textLength="51.6" lengthAdjust="spacingAndGlyphs" id="t114">+0.72</text></g>
<g class="k1"><text x="338.0" y="1836.5" font-size="21.1" text-anchor="end" textLength="185.8" lengthAdjust="spacingAndGlyphs">Treptow-Köpenick 4</text></g>
<use href="#t116" class="hv"/><g class="k2"><text x="837.0" y="1837.3" font-size="21.1" textLength="51.6" lengthAdjust="spacingAndGlyphs" id="t116">+0.87</text></g>
<g class="k1"><text x="338.0" y="1868.8" font-size="21.1" text-anchor="end" textLength="50.9" lengthAdjust="spacingAndGlyphs">Tegel</text></g>
<g class="k1"><text x="338.0" y="1901.2" font-size="21.1" text-anchor="end" textLength="125.9" lengthAdjust="spacingAndGlyphs">Britz/Buckow</text></g>
<use href="#t119" class="hv"/><g class="k2"><text x="783.0" y="1902.4" font-size="21.1" text-anchor="end" textLength="52.2" lengthAdjust="spacingAndGlyphs" id="t119">−0.16</text></g>
<g class="k1"><text x="338.0" y="1933.5" font-size="21.1" text-anchor="end" textLength="240.1" lengthAdjust="spacingAndGlyphs">Haselhorst/Siemensstadt</text></g>
<use href="#t121" class="hv"/><g class="k2"><text x="779.5" y="1934.0" font-size="21.1" text-anchor="end" textLength="52.2" lengthAdjust="spacingAndGlyphs" id="t121">−0.12</text></g>
<g class="k1"><text x="338.0" y="1965.8" font-size="21.1" text-anchor="end" textLength="103.6" lengthAdjust="spacingAndGlyphs">Mariendorf</text></g>
<use href="#t123" class="hv"/><g class="k2"><text x="775.0" y="1967.4" font-size="21.1" text-anchor="end" textLength="52.2" lengthAdjust="spacingAndGlyphs" id="t123">−0.89</text></g>
<g class="k1"><text x="338.0" y="1998.2" font-size="21.1" text-anchor="end" textLength="138.8" lengthAdjust="spacingAndGlyphs">Gatow/Kladow</text></g>
<use href="#t125" class="hv"/><g class="k2"><text x="773.5" y="1999.1" font-size="21.1" text-anchor="end" textLength="52.2" lengthAdjust="spacingAndGlyphs" id="t125">−0.75</text></g>
<g class="k1"><text x="338.0" y="2030.5" font-size="21.1" text-anchor="end" textLength="230.4" lengthAdjust="spacingAndGlyphs">Marienfelde/Lichtenrade</text></g>
<use href="#t127" class="hv"/><g class="k2"><text x="759.0" y="2030.7" font-size="21.1" text-anchor="end" textLength="52.2" lengthAdjust="spacingAndGlyphs" id="t127">−0.02</text></g>
<g class="k1"><text x="338.0" y="2062.8" font-size="21.1" text-anchor="end" textLength="207.9" lengthAdjust="spacingAndGlyphs">Wilhelmstadt/Staaken</text></g>
<use href="#t129" class="hv"/><g class="k2"><text x="747.0" y="2064.1" font-size="21.1" text-anchor="end" textLength="52.2" lengthAdjust="spacingAndGlyphs" id="t129">−0.33</text></g>
<g class="k1"><text x="338.0" y="2095.2" font-size="21.1" text-anchor="end" textLength="198.7" lengthAdjust="spacingAndGlyphs">Buckow Nord/Rudow</text></g>
<use href="#t131" class="hv"/><g class="k2"><text x="734.5" y="2095.8" font-size="21.1" text-anchor="end" textLength="52.2" lengthAdjust="spacingAndGlyphs" id="t131">−0.32</text></g>
<g class="k1"><text x="338.0" y="2127.5" font-size="21.1" text-anchor="end" textLength="47.4" lengthAdjust="spacingAndGlyphs">Buch</text></g>
<use href="#t133" class="hv"/><g class="k2"><text x="732.5" y="2129.2" font-size="21.1" text-anchor="end" textLength="52.2" lengthAdjust="spacingAndGlyphs" id="t133">−0.96</text></g>
<g class="k1"><text x="338.0" y="2159.8" font-size="21.1" text-anchor="end" textLength="82.2" lengthAdjust="spacingAndGlyphs">Marzahn</text></g>
<use href="#t135" class="hv"/><g class="k2"><text x="744.0" y="2160.9" font-size="21.1" textLength="51.6" lengthAdjust="spacingAndGlyphs" id="t135">+0.20</text></g>
<g class="k1"><text x="338.0" y="2192.1" font-size="21.1" text-anchor="end" textLength="238.4" lengthAdjust="spacingAndGlyphs">Hohenschönhausen Nord</text></g>
<use href="#t137" class="hv"/><g class="k2"><text x="706.5" y="2192.5" font-size="21.1" text-anchor="end" textLength="52.2" lengthAdjust="spacingAndGlyphs" id="t137">−0.34</text></g>
<g class="k1"><text x="338.0" y="2224.5" font-size="21.1" text-anchor="end" textLength="120.9" lengthAdjust="spacingAndGlyphs">Gropiusstadt</text></g>
<use href="#t139" class="hv"/><g class="k2"><text x="698.0" y="2225.9" font-size="21.1" text-anchor="end" textLength="52.2" lengthAdjust="spacingAndGlyphs" id="t139">−0.79</text></g>
<g class="k1"><text x="338.0" y="2256.8" font-size="21.1" text-anchor="end" textLength="191.2" lengthAdjust="spacingAndGlyphs">Charlottenburg Nord</text></g>
<use href="#t141" class="hv"/><g class="k2"><text x="679.5" y="2257.6" font-size="21.1" text-anchor="end" textLength="52.2" lengthAdjust="spacingAndGlyphs" id="t141">−1.69</text></g>
<g class="k1"><text x="338.0" y="2289.1" font-size="21.1" text-anchor="end" textLength="174.3" lengthAdjust="spacingAndGlyphs">Märkisches Viertel</text></g>
<g class="k3"><text x="358.9" y="2325.3" font-size="21.1" text-anchor="middle" textLength="41.1" lengthAdjust="spacingAndGlyphs">0.00</text></g>
<g class="k3"><text x="459.0" y="2325.3" font-size="21.1" text-anchor="middle" textLength="41.1" lengthAdjust="spacingAndGlyphs">2.00</text></g>
<g class="k3"><text x="559.2" y="2325.3" font-size="21.1" text-anchor="middle" textLength="41.1" lengthAdjust="spacingAndGlyphs">4.00</text></g>
<g class="k3"><text x="659.4" y="2325.3" font-size="21.1" text-anchor="middle" textLength="41.1" lengthAdjust="spacingAndGlyphs">6.00</text></g>
<g class="k3"><text x="759.6" y="2325.3" font-size="21.1" text-anchor="middle" textLength="41.1" lengthAdjust="spacingAndGlyphs">8.00</text></g>
<g class="k3"><text x="859.8" y="2325.3" font-size="21.1" text-anchor="middle" textLength="53.0" lengthAdjust="spacingAndGlyphs">10.00</text></g>
<g class="k3"><text x="959.9" y="2325.3" font-size="21.1" text-anchor="middle" textLength="53.0" lengthAdjust="spacingAndGlyphs">12.00</text></g>
<g class="k3"><text x="1060.1" y="2325.3" font-size="21.1" text-anchor="middle" textLength="53.0" lengthAdjust="spacingAndGlyphs">14.00</text></g>
<g class="k3"><text x="1160.3" y="2325.3" font-size="21.1" text-anchor="middle" textLength="53.0" lengthAdjust="spacingAndGlyphs">16.00</text></g>
<g class="k3"><text x="1260.5" y="2325.3" font-size="21.1" text-anchor="middle" textLength="53.0" lengthAdjust="spacingAndGlyphs">18.00</text></g>
<g class="k3"><text x="1360.7" y="2325.3" font-size="21.1" text-anchor="middle" textLength="53.0" lengthAdjust="spacingAndGlyphs">20.00</text></g>
<use href="#t154" class="ha"/><g class="k1"><text x="852.0" y="265.2" font-size="24.62" text-anchor="end" textLength="453.3" lengthAdjust="spacingAndGlyphs" id="t154">Between 2017 and 2022, 5.57% of Berlin&#x27;s</text></g>
<use href="#t155" class="ha"/><g class="k1"><text x="852.0" y="294.8" font-size="24.62" text-anchor="end" textLength="396.9" lengthAdjust="spacingAndGlyphs" id="t155">housing stock (2016) of rental rental</text></g>
<use href="#t156" class="ha"/><g class="k1"><text x="852.0" y="324.4" font-size="24.62" text-anchor="end" textLength="420.5" lengthAdjust="spacingAndGlyphs" id="t156">apartments was converted into owner-</text></g>
<use href="#t157" class="ha"/><g class="k1"><text x="852.0" y="354.0" font-size="24.62" text-anchor="end" textLength="481.8" lengthAdjust="spacingAndGlyphs" id="t157">occupied flats. The highest conversion rates</text></g>
<use href="#t158" class="ha"/><g class="k1"><text x="852.0" y="383.6" font-size="24.62" text-anchor="end" textLength="481.7" lengthAdjust="spacingAndGlyphs" id="t158">were recorded in the areas of <tspan font-weight="bold">Friedrichshain</tspan></text></g>
<use href="#t159" class="ha"/><g class="k1"><text x="852.0" y="413.2" font-size="24.62" text-anchor="end" textLength="436.0" lengthAdjust="spacingAndGlyphs" id="t159"><tspan font-weight="bold">Ost</tspan> with 138.22 per 1,000 dwellings and</text></g>
<use href="#t160" class="ha"/><g class="k1"><text x="852.0" y="442.8" font-size="24.62" text-anchor="end" textLength="442.3" lengthAdjust="spacingAndGlyphs" id="t160"><tspan font-weight="bold">Charlottenburg Zentrum</tspan> with 130.01 per</text></g>
<use href="#t161" class="ha"/><g class="k1"><text x="852.0" y="472.4" font-size="24.62" text-anchor="end" textLength="176.2" lengthAdjust="spacingAndGlyphs" id="t161">1,000 dwellings.</text></g>
<use href="#t162" class="ha"/><g class="k1"><text x="753.5" y="1021.3" font-size="24.62" text-anchor="end" textLength="228.1" lengthAdjust="spacingAndGlyphs" id="t162">In 2022, 0.86% of the</text></g>
<use href="#t163" class="ha"/><g class="k1"><text x="753.5" y="1050.9" font-size="24.62" text-anchor="end" textLength="260.4" lengthAdjust="spacingAndGlyphs" id="t163">housing stock (2021) of</text></g>
<use href="#t164" class="ha"/><g class="k1"><text x="753.5" y="1080.5" font-size="24.62" text-anchor="end" textLength="288.9" lengthAdjust="spacingAndGlyphs" id="t164">rental apartments in Berlin</text></g>
<use href="#t165" class="ha"/><g class="k1"><text x="753.5" y="1110.1" font-size="24.62" text-anchor="end" textLength="287.9" lengthAdjust="spacingAndGlyphs" id="t165">was converted into owner-</text></g>
<use href="#t166" class="ha"/><g class="k1"><text x="753.5" y="1139.7" font-size="24.62" text-anchor="end" textLength="310.4" lengthAdjust="spacingAndGlyphs" id="t166">occupied flats. <tspan font-weight="bold">Wedding</tspan> had</text></g>
<use href="#t167" class="ha"/><g class="k1"><text x="753.5" y="1169.3" font-size="24.62" text-anchor="end" textLength="296.0" lengthAdjust="spacingAndGlyphs" id="t167">the highest conversion rate</text></g>
<use href="#t168" class="ha"/><g class="k1"><text x="753.5" y="1198.9" font-size="24.62" text-anchor="end" textLength="313.0" lengthAdjust="spacingAndGlyphs" id="t168">at 24.62 per 1,000 dwellings.</text></g>
<use href="#t169" class="ha"/><g class="k1"><text x="1094.0" y="1758.7" font-size="24.62" textLength="209.3" lengthAdjust="spacingAndGlyphs" id="t169">In 2022 the highest</text></g>
<use href="#t170" class="ha"/><g class="k1"><text x="1094.0" y="1788.3" font-size="24.62" textLength="226.9" lengthAdjust="spacingAndGlyphs" id="t170">proportions of social</text></g>
<use href="#t171" class="ha"/><g class="k1"><text x="1094.0" y="1817.9" font-size="24.62" textLength="282.2" lengthAdjust="spacingAndGlyphs" id="t171">housing were found in the</text></g>
<use href="#t172" class="ha"/><g class="k1"><text x="1094.0" y="1847.5" font-size="24.62" textLength="269.5" lengthAdjust="spacingAndGlyphs" id="t172">areas of <tspan font-weight="bold">Kreuzberg Nord</tspan></text></g>
<use href="#t173" class="ha"/><g class="k1"><text x="1094.0" y="1877.1" font-size="24.62" textLength="179.0" lengthAdjust="spacingAndGlyphs" id="t173">with 24.02% and</text></g>
<use href="#t174" class="ha"/><g class="k1"><text x="1094.0" y="1906.7" font-size="24.62" textLength="227.6" lengthAdjust="spacingAndGlyphs" id="t174"><tspan font-weight="bold">Gesundbrunnen</tspan> with</text></g>
<use href="#t175" class="ha"/><g class="k1"><text x="1094.0" y="1936.3" font-size="24.62" textLength="86.3" lengthAdjust="spacingAndGlyphs" id="t175">19.76%.</text></g>
<path class="arr" d="M860 357.2 Q923.4 379.3 971.5 426.3 M968.7 416.6 L971.5 426.3 L961 426"/>
<path class="arr" d="M639.3 1213.5 Q689.9 1276.2 764.5 1306.5 M758.6 1298 L764.5 1306.5 L753.8 1309.8"/>
<path class="arr" d="M1191.1 1728 Q1144.4 1665.4 1070.2 1641.2 M1080.8 1637.8 L1070.2 1641.2 L1075.8 1650.6"/>
<g class="k5"><text x="17.5" y="2382.0" font-size="21.1" font-style="italic" textLength="1221.9" lengthAdjust="spacingAndGlyphs">* The changes to the life-world-oriented spaces have been in effect since January 1, 2021. The forecast rooms of Tegel, Grüner Norden,</text></g>
<g class="k5"><text x="17.5" y="2406.6" font-size="21.1" font-style="italic" textLength="1393.0" lengthAdjust="spacingAndGlyphs">Wittenau/Borsigwalde and Märkisches Viertel have changed in size since 2018. As a direct comparison of the values is not possible, only the 2022 data is</text></g>
<g class="k5"><text x="17.5" y="2431.2" font-size="21.1" font-style="italic" textLength="207.5" lengthAdjust="spacingAndGlyphs">shown for these areas.</text></g>
<g class="k5"><text x="17.5" y="2455.7" font-size="21.1" font-style="italic" textLength="1405.0" lengthAdjust="spacingAndGlyphs">* The forecast rooms Marienfelde and Lichtenrade have been joined after 2021, the 2018 value of Marienfelde/Lichtenrade therefore shows the mean value</text></g>
<g class="k5"><text x="17.5" y="2480.3" font-size="21.1" font-style="italic" textLength="126.1" lengthAdjust="spacingAndGlyphs">of both areas.</text></g>
<g class="k5"><text x="17.5" y="2504.9" font-size="21.1" font-style="italic" textLength="1283.2" lengthAdjust="spacingAndGlyphs">* The information in the text notes are sourced from the Wohnatlas 2022 by Senate Department for Urban Development, Building and Housing</text></g>
<g class="k6"><text x="17.5" y="2536.8" font-size="19.34" textLength="1020.4" lengthAdjust="spacingAndGlyphs">Chart: C. Keuss <tspan font-size="13.9" baseline-shift="1.9">•</tspan> Source: Senatsverwaltung für Stadtentwicklung, Bauen und Wohnen Berlin <tspan font-size="13.9" baseline-shift="1.9">•</tspan> Created with Datawrapper</text></g>
</svg>
</body></html>
